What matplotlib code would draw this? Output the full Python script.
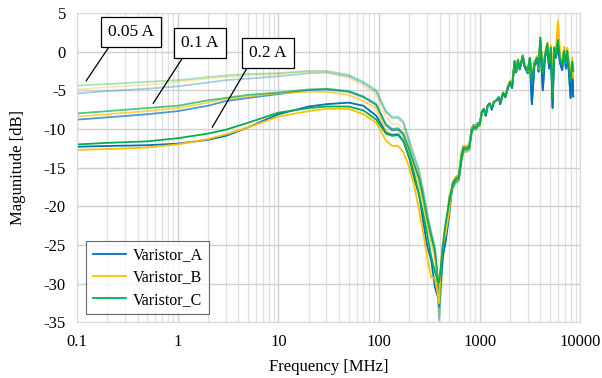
import matplotlib
matplotlib.use("Agg")
import matplotlib.pyplot as plt
import numpy as np

plt.rcParams['font.family'] = ['Liberation Serif', 'DejaVu Serif']
plt.rcParams['axes.unicode_minus'] = False

# frequency grid [MHz] up to 1 GHz
freq = [0.1, 0.2, 0.5, 1, 2, 3, 5, 10, 20, 30, 50, 70, 94, 117, 135, 155, 175, 200,
        225, 250, 275, 300, 330, 360, 380, 395, 410, 430, 460, 500, 540, 580, 620,
        660, 690, 740, 790, 830, 870, 920, 960]

# 0.05 A
a_005 = [-5.4, -5.1, -4.8, -4.5, -4.0, -3.7, -3.5, -3.2, -2.8, -2.7, -3.2, -4.1, -5.2, -7.8, -8.6, -8.6, -9.3, -11.8,
         -13.8, -15.6, -18.2, -21.0, -23.5, -25.5, -30.0, -34.8, -31.0, -26.5, -23.5, -19.0, -17.5, -16.8, -16.6,
         -14.0, -12.8, -12.8, -12.6, -10.5, -9.9, -10.0, -9.6]
b_005 = [-4.9, -4.6, -4.3, -3.9, -3.5, -3.3, -3.1, -2.9, -2.6, -2.7, -3.4, -4.4, -5.6, -8.4, -9.3, -9.4, -10.0, -12.3,
         -14.3, -16.0, -18.8, -21.5, -24.0, -26.0, -29.5, -34.0, -30.5, -26.0, -23.2, -19.2, -17.6, -17.0, -16.7,
         -14.2, -12.9, -13.0, -12.7, -10.6, -10.0, -10.1, -9.7]
c_005 = [-4.4, -4.2, -3.9, -3.7, -3.3, -3.1, -2.9, -2.8, -2.5, -2.5, -3.0, -3.9, -5.0, -7.7, -8.4, -8.4, -9.0, -11.5,
         -13.5, -15.3, -17.8, -20.7, -23.2, -25.2, -29.0, -34.5, -31.5, -27.0, -24.0, -19.5, -17.8, -17.0, -16.8,
         -14.3, -13.0, -13.0, -12.8, -10.7, -10.0, -10.1, -9.7]

# 0.1 A
a_01 = [-8.8, -8.5, -8.1, -7.7, -7.0, -6.4, -6.0, -5.5, -5.0, -4.9, -5.2, -5.9, -6.9, -9.5, -10.2, -10.1, -10.8, -12.8,
        -14.8, -16.5, -19.0, -21.8, -24.0, -26.0, -29.0, -33.0, -29.5, -25.5, -23.0, -18.8, -17.3, -16.6, -16.4,
        -13.8, -12.6, -12.6, -12.4, -10.3, -9.8, -9.9, -9.5]
b_01 = [-8.4, -8.1, -7.7, -7.3, -6.6, -6.1, -5.8, -5.4, -5.2, -5.2, -5.6, -6.4, -7.3, -10.2, -10.7, -10.6, -11.3, -13.3,
        -15.3, -17.2, -19.6, -22.3, -24.6, -26.8, -29.0, -32.0, -28.5, -25.0, -22.8, -18.6, -17.2, -16.6, -16.3,
        -13.7, -12.5, -12.6, -12.3, -10.3, -9.8, -9.9, -9.5]
c_01 = [-8.0, -7.7, -7.3, -7.0, -6.3, -6.0, -5.6, -5.3, -4.9, -4.8, -5.1, -5.8, -6.8, -9.4, -10.0, -9.9, -10.6, -12.6,
        -14.6, -16.3, -18.8, -21.4, -23.8, -25.8, -28.5, -32.5, -30.0, -26.0, -23.2, -19.0, -17.4, -16.7, -16.5,
        -13.9, -12.7, -12.7, -12.5, -10.4, -9.9, -10.0, -9.6]

# 0.2 A
a_02 = [-12.3, -12.2, -12.1, -11.9, -11.4, -10.9, -9.8, -8.1, -7.1, -6.8, -6.6, -7.0, -8.3, -10.5, -10.8, -10.7, -11.6, -13.8,
        -16.5, -18.5, -22.0, -25.0, -27.0, -30.5, -31.5, -32.0, -29.5, -26.5, -24.5, -21.0, -17.0, -16.2, -16.0,
        -13.2, -12.2, -12.3, -12.0, -10.0, -9.5, -9.6, -9.2]
b_02 = [-12.7, -12.6, -12.4, -12.0, -11.3, -10.7, -9.8, -8.4, -7.7, -7.4, -7.4, -8.1, -9.2, -11.5, -12.2, -12.2, -13.0, -15.0,
        -17.5, -20.5, -23.5, -26.5, -29.2, -29.3, -31.0, -32.5, -28.0, -25.0, -23.5, -20.5, -16.8, -16.2, -16.0,
        -13.0, -12.2, -12.3, -12.0, -10.1, -9.6, -9.7, -9.3]
c_02 = [-12.0, -11.8, -11.6, -11.2, -10.6, -10.1, -9.2, -7.9, -7.3, -7.1, -7.1, -7.6, -8.8, -10.6, -10.9, -10.8, -11.6, -13.6,
        -16.0, -18.5, -21.0, -23.5, -26.5, -28.5, -29.5, -29.8, -28.0, -25.0, -22.0, -19.5, -17.0, -16.4, -16.2,
        -13.4, -12.4, -12.5, -12.2, -10.2, -9.7, -9.8, -9.4]

# above 1 GHz (same for all currents)
freq_hi = [1000, 1050, 1100, 1150, 1200, 1260, 1320, 1380, 1470, 1550, 1600, 1710, 1800, 1900, 2000, 2100,
           2220, 2300, 2400, 2500, 2680, 2800, 3000, 3150, 3300, 3500, 3700, 3850, 4000, 4240, 4450, 4700,
           4900, 5100, 5300, 5500, 5700, 6000, 6300, 6600, 6900, 7200, 7400, 7700, 8000, 8300, 8500]
hi_a = [-9.4, -7.8, -7.4, -8.3, -7.0, -6.7, -7.5, -6.6, -6.3, -5.9, -6.8, -5.4, -5.9, -4.8, -4.0, -4.7,
        -1.5, -2.7, -1.3, -2.3, -0.8, -2.0, -2.8, -1.0, -6.8, -1.8, -1.0, -2.6, 1.2, -5.0, -0.8, 0.5,
        -2.2, 0.2, -7.3, 0.0, -0.8, 0.5, -1.5, -2.4, 0.2, -2.2, -0.5, -2.6, -6.0, -1.8, -5.8]
hi_b = [-9.6, -8.0, -7.6, -8.0, -7.1, -6.9, -7.2, -6.5, -6.4, -6.0, -6.5, -5.3, -5.7, -4.6, -3.8, -4.4,
        -1.3, -2.5, -1.0, -2.0, -0.6, -1.6, -2.6, -0.9, -3.5, -1.4, -0.6, -2.2, 1.5, -2.5, -0.4, 1.2,
        -1.2, 0.8, -3.0, 0.6, -0.2, 4.0, -0.6, -1.6, 0.6, -1.4, 0.5, -1.6, -3.0, -0.8, -3.4]
hi_c = [-9.5, -7.9, -7.5, -8.1, -7.0, -6.8, -7.3, -6.5, -6.3, -6.0, -6.6, -5.3, -5.8, -4.6, -3.9, -4.5,
        -1.2, -2.6, -1.1, -2.1, -0.5, -1.8, -2.5, -0.8, -3.7, -1.5, -0.8, -2.0, 1.8, -2.9, -0.5, 1.0,
        -1.5, 0.5, -6.0, 0.5, -0.4, 1.5, -1.0, -1.6, 0.1, -1.5, 0.1, -2.0, -3.8, -1.3, -2.5]

names = ['Varistor_A', 'Varistor_B', 'Varistor_C']
colors = ['#0070C0', '#FFC000', '#00B050']
hi = [hi_a, hi_b, hi_c]
groups = [([a_005, b_005, c_005], 0.35), ([a_01, b_01, c_01], 0.7), ([a_02, b_02, c_02], 1.0)]

fig = plt.figure(figsize=(6.02, 3.78), dpi=100)
ax = fig.add_axes([0.128, 0.147, 0.836, 0.819])

x_all = freq + freq_hi
for curves, alpha in groups:
    for i in range(3):
        lab = names[i] if alpha == 1.0 else None
        ax.plot(x_all, curves[i] + hi[i], color=colors[i], lw=1.3, alpha=alpha, label=lab)

ax.set_xscale('log')
ax.set_xlim(0.1, 10000)
ax.set_ylim(-35, 5)
ax.set_yticks(np.arange(-35, 6, 5))
ax.set_xticks([0.1, 1, 10, 100, 1000, 10000])
ax.set_xticklabels(['0.1', '1', '10', '100', '1000', '10000'])
ax.grid(True, which='major', color='#D0D0D0', lw=1.0)
ax.grid(True, which='minor', axis='x', color='#E0E0E0', lw=0.9)
ax.tick_params(which='both', length=0, labelsize=12, pad=8)
for s in ax.spines.values():
    s.set_color('#D9D9D9')
ax.set_axisbelow(True)

ax.set_xlabel('Frequency [MHz]', fontsize=12, labelpad=7)
ax.set_ylabel('Magunitude [dB]', fontsize=12, labelpad=13)

leg = ax.legend(loc='lower left', bbox_to_anchor=(0.018, 0.026), fontsize=11.5, frameon=True,
                fancybox=False, edgecolor='#404040', handlelength=2.1, borderaxespad=0,
                labelspacing=0.4, handletextpad=0.4, borderpad=0.4)
leg.get_frame().set_linewidth(0.8)

bbox = dict(boxstyle='square,pad=0.4', fc='white', ec='black', lw=0.9)
arrow = dict(arrowstyle='-', color='black', lw=0.9, shrinkA=0, shrinkB=0)
ax.annotate('0.05 A', xy=(0.123, -3.8), xytext=(0.345, 2.55), fontsize=12.5, ha='center', va='center',
            bbox=bbox, arrowprops=dict(arrow, relpos=(0.12, 0)))
ax.annotate('0.1 A', xy=(0.57, -6.7), xytext=(1.67, 1.1), fontsize=12.5, ha='center', va='center',
            bbox=bbox, arrowprops=dict(arrow, relpos=(0.15, 0)))
ax.annotate('0.2 A', xy=(2.2, -9.8), xytext=(7.9, -0.2), fontsize=12.5, ha='center', va='center',
            bbox=bbox, arrowprops=dict(arrow, relpos=(0.05, 0)))

fig.savefig('out.png', dpi=100)
